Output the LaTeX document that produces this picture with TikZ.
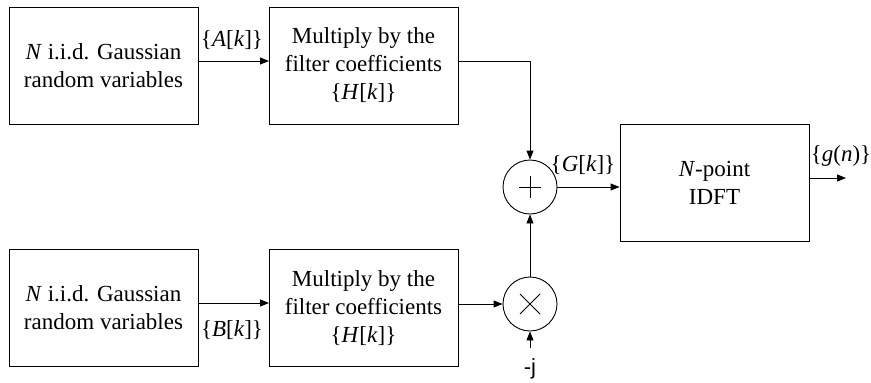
\documentclass[tikz,border=0pt]{standalone}
\usepackage{fontspec}
\setmainfont{Liberation Serif}
\newfontfamily\jfont{Liberation Sans}
\usetikzlibrary{arrows.meta,calc}
\begin{document}
\begin{tikzpicture}[x=1pt,y=-1pt,
  box/.style={draw,line width=0.9pt,minimum width=189pt,minimum height=117pt,inner sep=0pt,align=center,font=\fontsize{23}{28}\selectfont},
  sumnode/.style={draw,circle,line width=0.9pt,minimum size=54pt,inner sep=0pt},
  lbl/.style={font=\fontsize{23}{28}\selectfont,inner sep=0pt},
  conn/.style={line width=0.9pt,-{Triangle[length=9pt,width=7pt]}}]
\useasboundingbox (0,0) rectangle (871,383);
\node[box] (b1) at (103.5,65.5) {\textit{N} i.i.d. Gaussian\\random variables};
\node[box] (b2) at (363.5,65.5) {Multiply by the\\filter coefficients\\\{\textit{H}[\textit{k}]\}};
\node[box] (b3) at (103.5,308) {\textit{N} i.i.d. Gaussian\\random variables};
\node[box] (b4) at (363.5,308) {Multiply by the\\filter coefficients\\\{\textit{H}[\textit{k}]\}};
\node[box] (idft) at (714.5,182.5) {\textit{N}-point\\IDFT};
\node[sumnode] (add) at (530,187) {};
\node[sumnode] (mul) at (530,304) {};
\draw[line width=0.8pt] ($(add.center)+(-11,0)$) -- ($(add.center)+(11,0)$) ($(add.center)+(0,-11)$) -- ($(add.center)+(0,11)$);
\draw[line width=0.8pt] ($(mul.center)+(-10,-10)$) -- ($(mul.center)+(10,10)$) ($(mul.center)+(-10,10)$) -- ($(mul.center)+(10,-10)$);
\coordinate (t1) at (198,61);
\coordinate (t2) at (269,61);
\coordinate (t3) at (458,61);
\coordinate (t4) at (530,61);
\coordinate (u1) at (198,303);
\coordinate (u2) at (269,303);
\coordinate (u3) at (458,304);
\coordinate (o1) at (809,178);
\coordinate (o2) at (846,178);
\coordinate (j1) at (530,348);
\draw[conn] (t1) -- (t2);
\draw[conn] (t3) -- (t4) -- (add.north);
\draw[conn] (u1) -- (u2);
\draw[conn] (u3) -- (mul.west);
\draw[conn] (mul.north) -- (add.south);
\draw[conn] (add.east) -- (idft.west |- add.east);
\draw[conn] (o1) -- (o2);
\draw[conn] (j1) -- (mul.south);
\node[lbl] (la) at (232,40) {\{\textit{A}[\textit{k}]\}};
\node[lbl] (lb) at (232,330) {\{\textit{B}[\textit{k}]\}};
\node[lbl] (lg) at (583,165) {\{\textit{G}[\textit{k}]\}};
\node[lbl] (ln) at (841,156) {\{\textit{g}(\textit{n})\}};
\node[lbl,font=\jfont\fontsize{22}{26}\selectfont] (lj) at (530,369) {-j};
\end{tikzpicture}
\end{document}
